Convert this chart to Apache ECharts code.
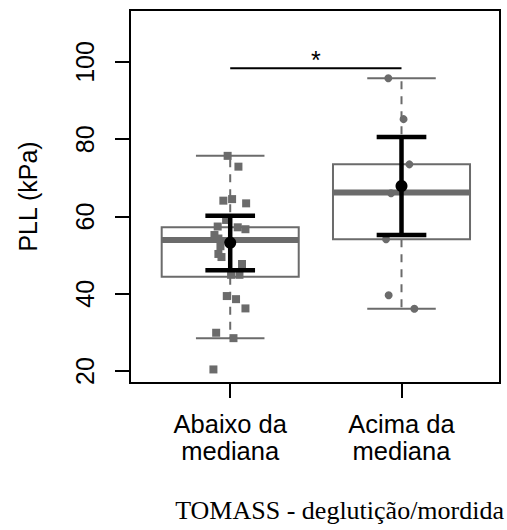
<!DOCTYPE html>
<html>
<head>
<meta charset="utf-8">
<script src="https://cdn.jsdelivr.net/npm/echarts@6/dist/echarts.min.js"></script>
<style>html,body{margin:0;padding:0;background:#fff}#c{width:507px;height:530px}</style>
</head>
<body>
<div id="c"></div>
<script>
// ---- data ----
const categories = ['Abaixo da\nmediana', 'Acima da\nmediana'];
const yTicks = [20, 40, 60, 80, 100];
// boxplot stats: [lower whisker, Q1, median, Q3, upper whisker]
const boxAbaixo = [28.5, 44.4, 53.9, 57.2, 75.7];
const boxAcima = [36.1, 54.1, 66.2, 73.5, 95.8];
// mean and mean +/- sd
const meanValues = [53.2, 67.9];
const sdLower = [46.1, 55.2];
const sdUpper = [60.2, 80.6];
// individual points (values and horizontal jitter)
const pointsAbaixo = [75.7, 72.9, 64.1, 64.5, 63.4, 59.1, 57.4, 57.2, 56.7, 55.2, 54.3, 52.3, 50.3, 49.5, 47.7, 44.9, 44.9, 39.4, 38.6, 36.2, 29.9, 28.5, 20.4];
const jitterAbaixo = [-0.015, 0.048, -0.04, 0.011, 0.093, -0.024, -0.073, 0.044, 0.089, -0.092, -0.069, -0.057, -0.069, -0.051, 0.069, 0.005, 0.054, -0.02, 0.034, 0.089, -0.082, 0.019, -0.098];
const pointsAcima = [95.8, 85.2, 73.5, 66.0, 54.1, 39.6, 36.1];
const jitterAcima = [-0.077, 0.012, 0.046, -0.061, -0.09, -0.075, 0.075];
// significance bracket
const sigFrom = 1, sigTo = 2, sigLevel = 98.4, sigLabel = '*';
const footnote = 'TOMASS - deglutição/mordida';

// ---- chart ----
const GREY = '#6b6b6b';
const chart = echarts.init(document.getElementById('c'), null, {renderer: 'svg'});

const boxData = [[1].concat(boxAbaixo), [2].concat(boxAcima)];
const meanData = meanValues.map((m, i) => [i + 1, sdLower[i], m, sdUpper[i]]);

function renderBox(params, api) {
  const x = api.value(0);
  const lo = api.coord([x, api.value(1)]);
  const q1 = api.coord([x, api.value(2)]);
  const md = api.coord([x, api.value(3)]);
  const q3 = api.coord([x, api.value(4)]);
  const hi = api.coord([x, api.value(5)]);
  const hw = api.size([0.4, 0])[0];
  const cw = api.size([0.2, 0])[0];
  const cx = lo[0];
  const thin = {stroke: GREY, lineWidth: 2, fill: null};
  const dashed = {stroke: GREY, lineWidth: 2, lineDash: [8, 7], fill: null};
  return {
    type: 'group',
    children: [
      {type: 'line', shape: {x1: cx, y1: q3[1], x2: cx, y2: hi[1]}, style: dashed},
      {type: 'line', shape: {x1: cx, y1: q1[1], x2: cx, y2: lo[1]}, style: dashed},
      {type: 'line', shape: {x1: cx - cw, y1: hi[1], x2: cx + cw, y2: hi[1]}, style: thin},
      {type: 'line', shape: {x1: cx - cw, y1: lo[1], x2: cx + cw, y2: lo[1]}, style: thin},
      {type: 'rect', shape: {x: cx - hw, y: q3[1], width: 2 * hw, height: q1[1] - q3[1]}, style: {stroke: GREY, lineWidth: 2, fill: 'rgba(255,255,255,0)'}},
      {type: 'line', shape: {x1: cx - hw, y1: md[1], x2: cx + hw, y2: md[1]}, style: {stroke: GREY, lineWidth: 6}}
    ]
  };
}

function renderMean(params, api) {
  const x = api.value(0);
  const lo = api.coord([x, api.value(1)]);
  const m = api.coord([x, api.value(2)]);
  const hi = api.coord([x, api.value(3)]);
  const cw = api.size([0.145, 0])[0];
  const cx = m[0];
  const st = {stroke: '#000', lineWidth: 4.5, fill: null};
  return {
    type: 'group',
    children: [
      {type: 'line', shape: {x1: cx, y1: lo[1], x2: cx, y2: hi[1]}, style: st},
      {type: 'line', shape: {x1: cx - cw, y1: lo[1], x2: cx + cw, y2: lo[1]}, style: st},
      {type: 'line', shape: {x1: cx - cw, y1: hi[1], x2: cx + cw, y2: hi[1]}, style: st},
      {type: 'circle', shape: {cx: cx, cy: m[1], r: 6}, style: {fill: '#000'}}
    ]
  };
}

function renderSig(params, api) {
  const a = api.coord([api.value(0), api.value(2)]);
  const b = api.coord([api.value(1), api.value(2)]);
  return {
    type: 'group',
    children: [
      {type: 'line', shape: {x1: a[0], y1: a[1], x2: b[0], y2: b[1]}, style: {stroke: '#000', lineWidth: 2}},
      {type: 'text', x: (a[0] + b[0]) / 2, y: a[1] + 4, style: {text: sigLabel, fill: '#000', font: '25px "Liberation Sans"', align: 'center', verticalAlign: 'bottom'}}
    ]
  };
}

chart.setOption({
  animation: false,
  backgroundColor: '#fff',
  title: {
    text: footnote, right: 3, top: 497, padding: 0,
    textStyle: {fontFamily: 'Liberation Serif', fontSize: 26, fontWeight: 'normal', color: '#000'}
  },
  grid: {left: 130, top: 10, right: 7, bottom: 147, show: true, borderColor: '#000', borderWidth: 2, backgroundColor: 'transparent'},
  xAxis: {
    type: 'value', min: 0.415, max: 2.575,
    axisLine: {show: false},
    splitLine: {show: false},
    axisTick: {show: true, inside: false, length: 15, customValues: [1, 2], lineStyle: {color: '#000', width: 2}},
    axisLabel: {
      customValues: [1, 2], margin: 27,
      formatter: v => categories[Math.round(v) - 1],
      fontFamily: 'Liberation Sans', fontSize: 25.5, lineHeight: 27.5, color: '#000'
    }
  },
  yAxis: {
    type: 'value', min: 16.89, max: 113.46,
    name: 'PLL (kPa)', nameLocation: 'middle', nameRotate: 90, nameGap: 90,
    nameTextStyle: {fontFamily: 'Liberation Sans', fontSize: 25, color: '#000'},
    axisLine: {show: false},
    splitLine: {show: false},
    axisTick: {show: true, inside: false, length: 15, customValues: yTicks, lineStyle: {color: '#000', width: 2}},
    axisLabel: {
      customValues: yTicks, rotate: 90, margin: 33,
      fontFamily: 'Liberation Sans', fontSize: 25, color: '#000'
    }
  },
  series: [
    {type: 'custom', renderItem: renderBox, data: boxData, z: 1, clip: false},
    {type: 'scatter', symbol: 'rect', symbolSize: 8, itemStyle: {color: GREY, opacity: 1}, z: 2,
      data: pointsAbaixo.map((v, i) => [1 + jitterAbaixo[i], v])},
    {type: 'scatter', symbol: 'circle', symbolSize: 8, itemStyle: {color: GREY, opacity: 1}, z: 2,
      data: pointsAcima.map((v, i) => [2 + jitterAcima[i], v])},
    {type: 'custom', renderItem: renderMean, data: meanData, z: 3},
    {type: 'custom', renderItem: renderSig, data: [[sigFrom, sigTo, sigLevel]], z: 3, clip: false}
  ]
});
</script>
</body>
</html>
